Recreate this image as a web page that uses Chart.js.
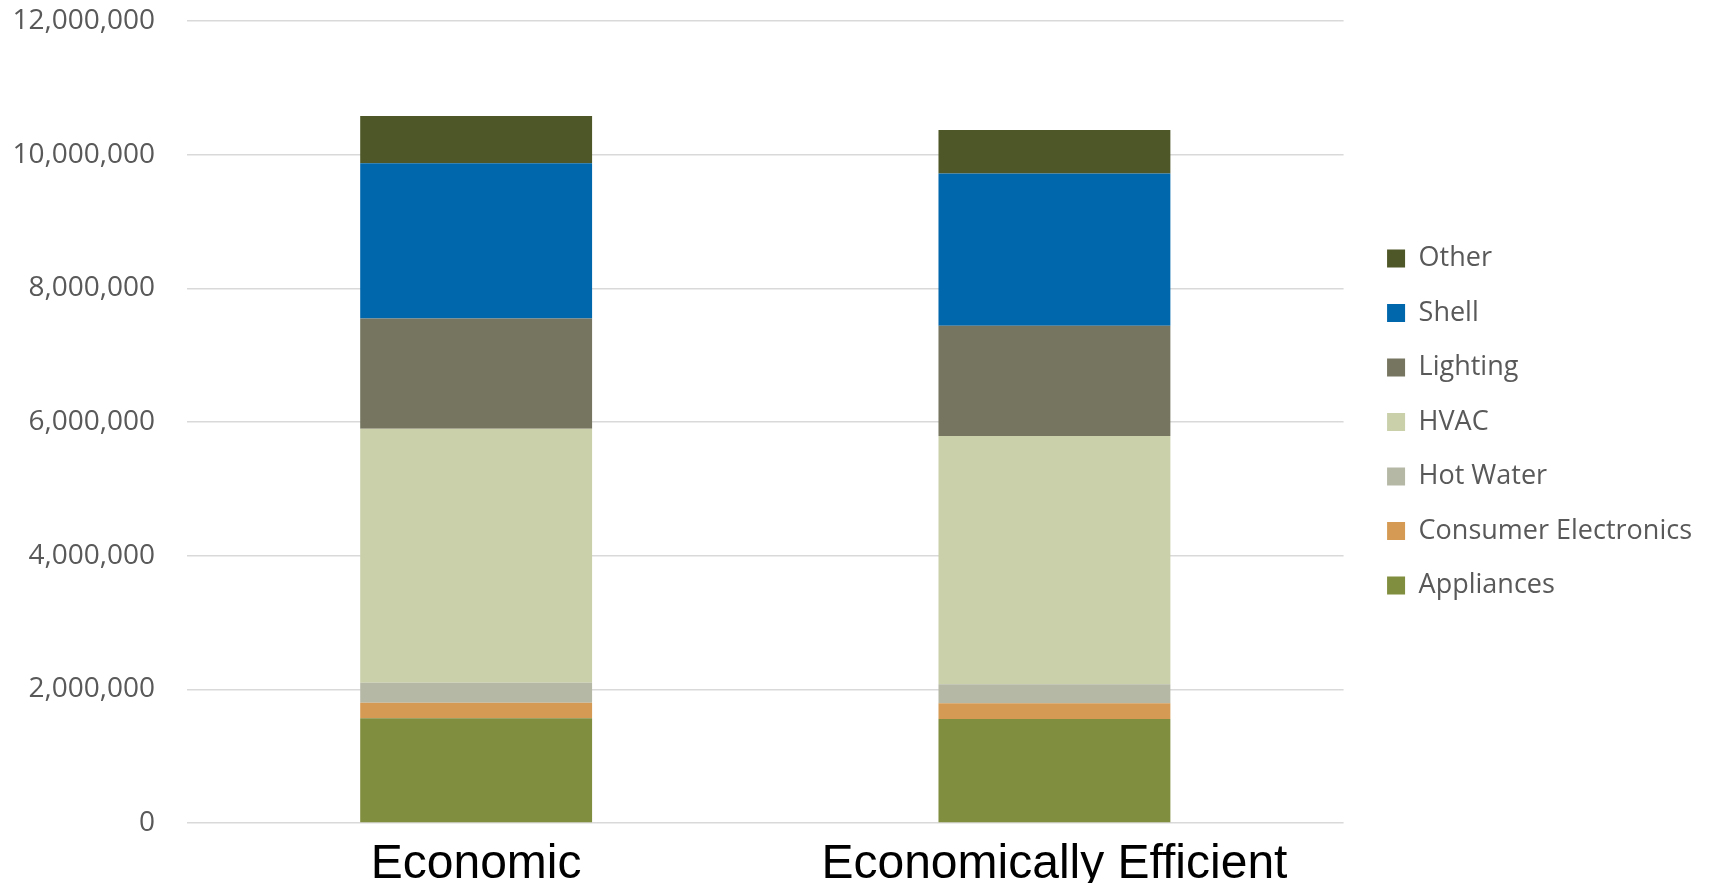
<!DOCTYPE html>
<html>
<head>
<meta charset="utf-8">
<script src="https://cdn.jsdelivr.net/npm/chart.js@4"></script>
<style>
    html, body { margin: 0; padding: 0; background: #fff; }
    #wrap { width: 1714px; height: 883px; position: relative; }
</style>
</head>
<body>
<div id="wrap"><canvas id="energyChart"></canvas></div>
<script>
// Data
const scenarios = ['Economic', 'Economically Efficient'];
const appliances = [1567000, 1556000];
const consumerElectronics = [233000, 234000];
const hotWater = [300000, 285000];
const hvac = [3800000, 3715000];
const lighting = [1650000, 1650000];
const shell = [2320000, 2280000];
const other = [710000, 650000];
const yTicks = [0, 2000000, 4000000, 6000000, 8000000, 10000000, 12000000];

const LEGEND_GAP = 16; // extra room between plot area and legend

function makeSet(label, data, color) {
    return {
        label: label,
        data: data,
        backgroundColor: color,
        borderWidth: 0,
        categoryPercentage: 1,
        barPercentage: 0.401
    };
}

// push the legend a bit to the right of the plot area
const legendShift = {
    id: 'legendShift',
    afterLayout(chart) {
        const lg = chart.legend;
        if (lg) {
            lg.left += LEGEND_GAP;
            lg.right += LEGEND_GAP;
        }
    }
};

const ctx = document.getElementById('energyChart').getContext('2d');
const chart = new Chart(ctx, {
    type: 'bar',
    data: {
        labels: scenarios,
        datasets: [
            makeSet('Appliances', appliances, '#808e3f'),
            makeSet('Consumer Electronics', consumerElectronics, '#d59b55'),
            makeSet('Hot Water', hotWater, '#b6b8a6'),
            makeSet('HVAC', hvac, '#c9d0aa'),
            makeSet('Lighting', lighting, '#767560'),
            makeSet('Shell', shell, '#0067ac'),
            makeSet('Other', other, '#4e5727')
        ]
    },
    options: {
        responsive: true,
        maintainAspectRatio: false,
        animation: false,
        layout: {
            padding: { top: 21, right: 12 + LEGEND_GAP, bottom: 0, left: 0 }
        },
        plugins: {
            tooltip: { enabled: false },
            legend: {
                position: 'right',
                fullSize: false,
                reverse: true,
                labels: {
                    boxWidth: 18,
                    boxHeight: 18,
                    padding: 27.5,
                    color: '#595959',
                    font: { family: '"Open Sans", sans-serif', size: 27 }
                }
            }
        },
        scales: {
            x: {
                stacked: true,
                grid: { display: false },
                border: { display: false },
                ticks: {
                    color: '#000000',
                    padding: 5,
                    font: { family: '"Liberation Sans", Arial, sans-serif', size: 48 }
                },
                afterFit: function (scale) { scale.height = 60; }
            },
            y: {
                stacked: true,
                min: 0,
                max: 12000000,
                afterBuildTicks: function (scale) {
                    scale.ticks = yTicks.map(v => ({ value: v }));
                },
                grid: { color: '#d9d9d9', lineWidth: 1.5, drawTicks: false },
                border: { display: false },
                ticks: {
                    color: '#595959',
                    padding: 32,
                    font: { family: '"Open Sans", sans-serif', size: 28 },
                    callback: v => Number(v).toLocaleString('en-US')
                },
                afterFit: function (scale) {
                    scale.width = 187;
                    // tick padding would otherwise push the plot top down
                    scale.paddingTop = 0;
                    scale.paddingBottom = 0;
                }
            }
        }
    },
    plugins: [legendShift]
});
</script>
</body>
</html>
